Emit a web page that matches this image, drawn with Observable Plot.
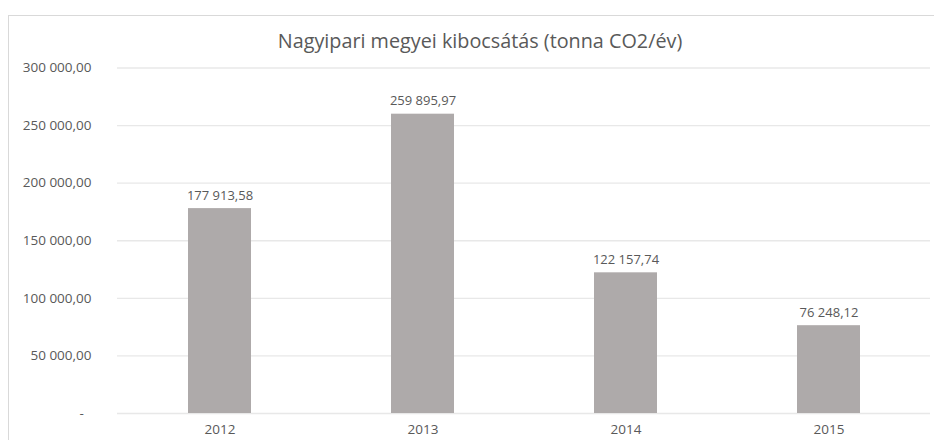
<!DOCTYPE html>
<html>
<head>
<meta charset="utf-8">
<script src="https://cdn.jsdelivr.net/npm/d3@7"></script>
<script src="https://cdn.jsdelivr.net/npm/@observablehq/plot@0.6"></script>
<style>
  html, body { margin: 0; padding: 0; background: #fff; }
  #wrap { position: relative; width: 934px; height: 440px; overflow: hidden; }
  #border { position: absolute; left: 8px; top: 15px; width: 940px; height: 440px; border: 1px solid #d9d9d9; box-sizing: border-box; }
  #chart { position: absolute; left: 0; top: 0; }
</style>
</head>
<body>
<div id="wrap"><div id="border"></div><div id="chart"></div></div>
<script>
const title = "Nagyipari megyei kibocsátás (tonna CO2/év)";
const years = ["2012", "2013", "2014", "2015"];
const values = [177913.58, 259895.97, 122157.74, 76248.12];
const yTicks = [0, 50000, 100000, 150000, 200000, 250000, 300000];

const data = years.map((y, i) => ({year: y, value: values[i]}));

function huNum(v) {
  const parts = v.toFixed(2).split(".");
  const int = parts[0].replace(/\B(?=(\d{3})+(?!\d))/g, "\u00a0");
  return int + "," + parts[1];
}
const yFmt = v => v === 0 ? "-\u2007" : huNum(v);

const font = "'Open Sans', sans-serif";
const textColor = "#595959";

const plot = Plot.plot({
  width: 934,
  height: 440,
  marginLeft: 117,
  marginRight: 4,
  marginTop: 67.5,
  marginBottom: 27,
  style: {fontFamily: font, fontSize: "13px", color: textColor, background: "transparent"},
  x: {domain: years, paddingInner: 0.69, paddingOuter: 0.345, align: 0.5, label: null},
  y: {domain: [0, 300000], label: null},
  marks: [
    Plot.ruleY(yTicks, {stroke: "#e8e8e8", strokeWidth: 1.3}),
    Plot.barY(data, {x: "year", y: "value", fill: "#aeaaaa"}),
    Plot.text(data, {x: "year", y: "value", text: d => huNum(d.value), dy: -13, fill: textColor, fontSize: 13}),
    Plot.text([title], {frameAnchor: "top", dx: -44, dy: -34, text: d => d, fill: textColor, fontSize: 19.8}),
    Plot.axisX({tickSize: 0, tickPadding: 11, fill: textColor, fontSize: 13.5, label: null}),
    Plot.axisY({ticks: yTicks, tickFormat: yFmt, tickSize: 0, tickPadding: 26, fill: textColor, fontSize: 13.5, label: null})
  ]
});
document.getElementById("chart").appendChild(plot);
</script>
</body>
</html>
